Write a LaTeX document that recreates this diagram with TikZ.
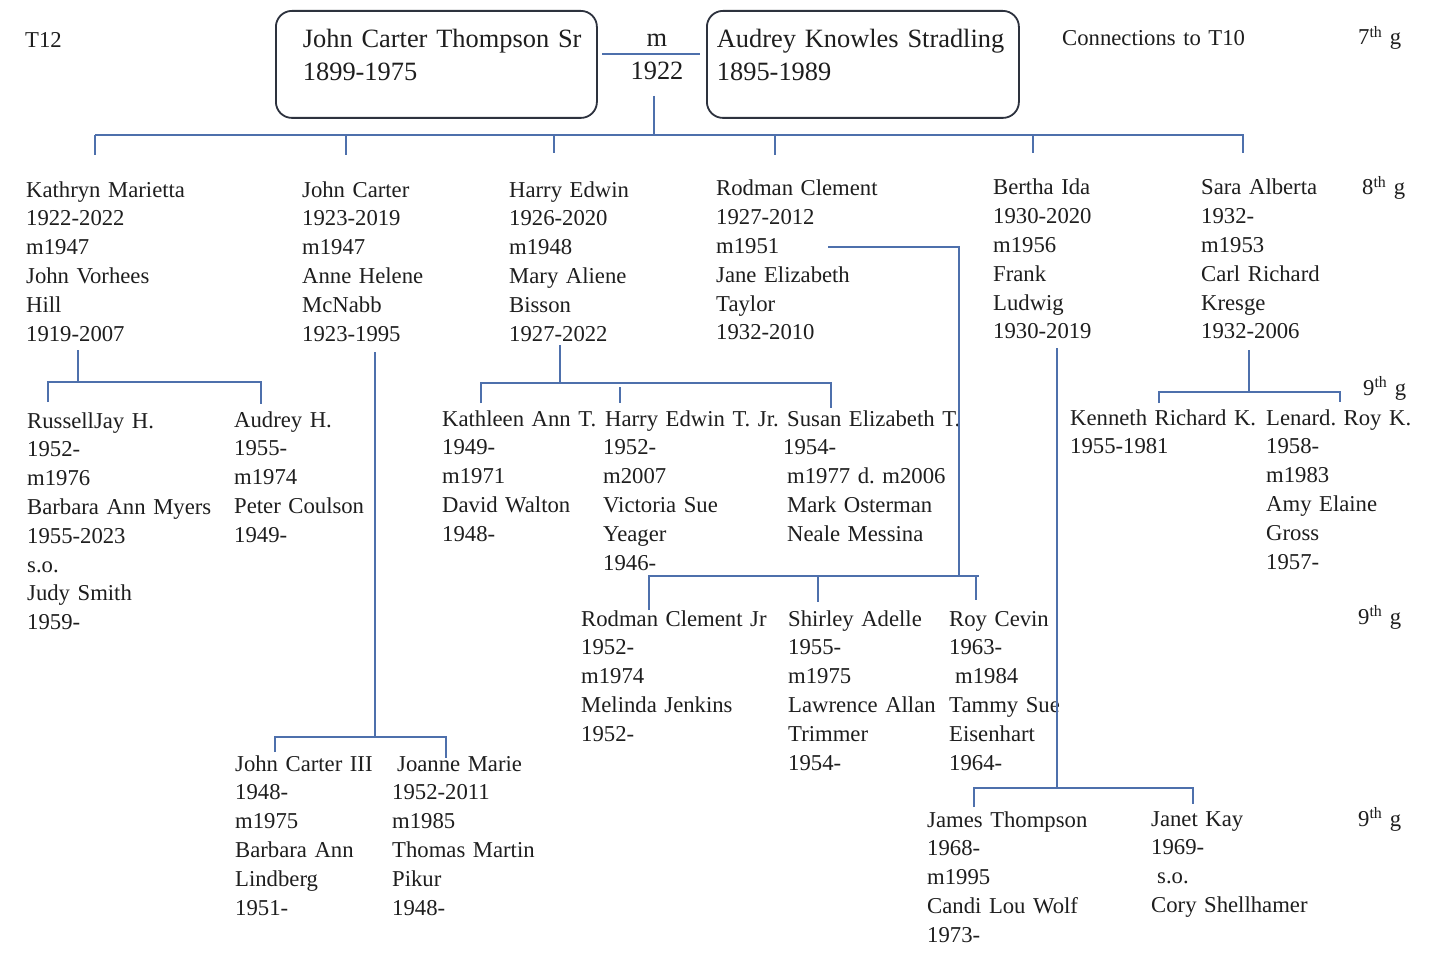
\documentclass[tikz,border=0pt]{standalone}
\usepackage{fontspec}
\setmainfont{Liberation Serif}
\usetikzlibrary{positioning}
\definecolor{ink}{RGB}{30,30,30}
\definecolor{frame}{RGB}{45,50,62}
\definecolor{treeblue}{RGB}{78,112,172}
\frenchspacing

\begin{document}
\begin{tikzpicture}[
  x=1pt, y=-1pt,
  person/.style={anchor=base west,align=left,text width=215pt,inner sep=0pt,text=ink,font=\fontsize{22.7}{28.8}\selectfont},
  couple/.style={draw=frame,line width=1.8pt,rounded corners=16pt,anchor=north west,align=left,
    inner ysep=0pt,text height=37pt,text depth=70pt,text=ink,font=\fontsize{26.4}{33}\selectfont},
  link/.style={draw=treeblue,line width=1.4pt}
]
\fill[white] (0,0) rectangle (1440,960);
\useasboundingbox (0,0) rectangle (1440,960);

% top couple
\node[person] (t12) at (25,48) {T12};
\node[couple,text width=267pt,inner xsep=27pt] (jcts) at (275,10) {\mbox{John Carter Thompson Sr}\\1899-1975};
\node[person,anchor=base,align=center,text width=70pt,font=\fontsize{26.4}{33}\selectfont] (wed) at (657,47) {m\\1922};
\node[couple,text width=292pt,inner xsep=10pt] (akns) at (706,10) {Audrey Knowles Stradling\\1895-1989};
\node[person] (conn) at (1062,46) {Connections to T10};
\node[person,text width=60pt] (g7) at (1358,45) {7\textsuperscript{th} g};

% 8th generation
\node[person] (kathryn) at (26,197) {Kathryn Marietta\\1922-2022\\m1947\\John Vorhees\\Hill\\1919-2007};
\node[person] (jcarter) at (302,197) {John Carter\\1923-2019\\m1947\\Anne Helene\\McNabb\\1923-1995};
\node[person] (harry) at (509,197) {Harry Edwin\\1926-2020\\m1948\\Mary Aliene\\Bisson\\1927-2022};
\node[person] (rodman) at (716,196) {Rodman Clement\\1927-2012\\m1951\\Jane Elizabeth\\Taylor\\1932-2010};
\node[person] (bertha) at (993,195) {Bertha Ida\\1930-2020\\m1956\\Frank\\Ludwig\\1930-2019};
\node[person] (sara) at (1201,195) {Sara Alberta\\1932-\\m1953\\Carl Richard\\Kresge\\1932-2006};
\node[person,text width=60pt] (g8) at (1362,195) {8\textsuperscript{th} g};

% 9th generation
\node[person] (russell) at (27,428) {RussellJay H.\\1952-\\m1976\\Barbara Ann Myers\\1955-2023\\s.o.\\Judy Smith\\1959-};
\node[person] (audreyh) at (234,427) {Audrey H.\\1955-\\m1974\\Peter Coulson\\1949-};
\node[person] (kathleen) at (442,426) {Kathleen Ann T.\\1949-\\m1971\\David Walton\\1948-};
\node[person] (harryjr) at (603,426) {\hspace*{2pt}Harry Edwin T. Jr.\\1952-\\m2007\\Victoria Sue\\Yeager\\1946-};
\node[person] (susan) at (787,426) {Susan Elizabeth T.\\\hspace*{-4pt}1954-\\m1977 d. m2006\\Mark Osterman\\Neale Messina};
\node[person] (kenneth) at (1070,425) {Kenneth Richard K.\\1955-1981};
\node[person,text width=170pt] (lenard) at (1266,425) {Lenard. Roy K.\\1958-\\m1983\\Amy Elaine\\Gross\\1957-};
\node[person,text width=60pt] (g9a) at (1363,395) {9\textsuperscript{th} g};

\node[person] (rodjr) at (581,626) {Rodman Clement Jr\\1952-\\m1974\\Melinda Jenkins\\1952-};
\node[person] (shirley) at (788,626) {Shirley Adelle\\1955-\\m1975\\Lawrence Allan\\Trimmer\\1954-};
\node[person] (roy) at (949,626) {Roy Cevin\\1963-\\\hspace*{6pt}m1984\\Tammy Sue\\Eisenhart\\1964-};
\node[person,text width=60pt] (g9b) at (1358,624) {9\textsuperscript{th} g};

\node[person] (jc3) at (235,771) {John Carter III\\1948-\\m1975\\Barbara Ann\\Lindberg\\1951-};
\node[person] (joanne) at (392,771) {\hspace*{5pt}Joanne Marie\\1952-2011\\m1985\\Thomas Martin\\Pikur\\1948-};

\node[person] (james) at (927,827) {James Thompson\\1968-\\m1995\\Candi Lou Wolf\\1973-};
\node[person] (janet) at (1151,826) {Janet Kay\\1969-\\\hspace*{6pt}s.o.\\Cory Shellhamer};
\node[person,text width=60pt] (g9c) at (1358,826) {9\textsuperscript{th} g};

% marriage and family bus
\coordinate (wedl) at (602,54);
\coordinate (wedr) at (700,54);
\draw[link] (wedl) -- (wedr);
\coordinate (fam) at (654,135);
\draw[link] (fam) ++(0,-39) -- (fam);
\draw[link] (95,135) -- (1244,135);
\draw[link] (95,135) -- ++(0,20);
\draw[link] (346,135) -- ++(0,20);
\draw[link] (554,135) -- ++(0,18);
\draw[link] (775,135) -- ++(0,20);
\draw[link] (1033,135) -- ++(0,18);
\draw[link] (1243,135) -- ++(0,18);

% Kathryn's children
\coordinate (kj) at (78,382);
\draw[link] (kj) ++(0,-32) -- (kj);
\draw[link] (48,402) -- (48,382) -- (261,382) -- (261,404);

% John Carter's children
\coordinate (jj) at (375,737);
\draw[link] (jj) ++(0,-385) -- (jj);
\draw[link] (275,752) -- (275,737) -- (446,737) -- (446,758);

% Harry Edwin's children
\coordinate (hj) at (560,383);
\draw[link] (hj) ++(0,-38) -- (hj);
\draw[link] (481,403) -- (481,383) -- (831,383) -- (831,408);
\draw[link] (620,387) -- ++(0,16);

% Rodman's children
\coordinate (rj) at (959,576);
\draw[link] (828,247) -- (959,247) -- (rj);
\draw[link] (649,610) -- (649,576) -- (979,576);
\draw[link] (818,576) -- ++(0,26);
\draw[link] (976,576) -- ++(0,24);

% Bertha's children
\coordinate (bj) at (1057,788);
\draw[link] (bj) ++(0,-440) -- (bj);
\draw[link] (974,807) -- (974,788) -- (1193,788) -- (1193,804);

% Sara's children
\coordinate (sj) at (1249,392);
\draw[link] (sj) ++(0,-42) -- (sj);
\draw[link] (1159,403) -- (1159,392) -- (1340,392) -- (1340,402);
\end{tikzpicture}
\end{document}
